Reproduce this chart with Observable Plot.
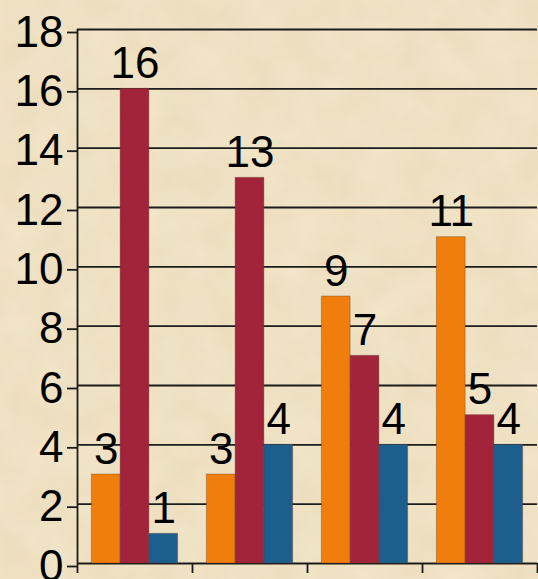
<!DOCTYPE html>
<html>
<head>
<meta charset="utf-8">
<script src="https://cdn.jsdelivr.net/npm/d3@7"></script>
<script src="https://cdn.jsdelivr.net/npm/@observablehq/plot@0.6"></script>
<style>
  html, body { margin: 0; padding: 0; }
  body {
    width: 538px; height: 579px; overflow: hidden;
    background-color: #F4E7CA;
    background-image: url("data:image/svg+xml;utf8,<svg xmlns='http://www.w3.org/2000/svg' width='538' height='579'><filter id='n'><feTurbulence type='fractalNoise' baseFrequency='0.025' numOctaves='4' seed='3'/><feColorMatrix values='0 0 0 0 0.6  0 0 0 0 0.48  0 0 0 0 0.28  0 0 0 0.26 0'/></filter><rect width='100%' height='100%' filter='url(%23n)'/></svg>");
  }
  #chart svg { display: block; }
</style>
</head>
<body>
<div id="chart"></div>
<script>
// Data
const groups = ["Group 1", "Group 2", "Group 3", "Group 4"];
const seriesNames = ["Series 1", "Series 2", "Series 3"];
const series1 = [3, 3, 9, 11];
const series2 = [16, 13, 7, 5];
const series3 = [1, 4, 4, 4];
const yTicks = [0, 2, 4, 6, 8, 10, 12, 14, 16, 18];
const groupEdges = [0, 1, 2, 3, 4];

const seriesValues = [series1, series2, series3];
const barW = 0.25;
const data = [];
groups.forEach((g, gi) => {
  seriesNames.forEach((s, si) => {
    const x1 = gi + 0.5 - 1.5 * barW + si * barW;
    data.push({ group: g, series: s, value: seriesValues[si][gi], x1, x2: x1 + barW, xm: x1 + barW / 2 });
  });
});

const ink = "#1c1c1c";
const chart = Plot.plot({
  width: 538,
  height: 579,
  marginLeft: 77,
  marginRight: 1,
  marginTop: 29,
  marginBottom: 16,
  style: { background: "transparent", fontFamily: "'Liberation Sans', Arial, sans-serif", color: "#000", overflow: "visible" },
  x: { domain: [0, 4], axis: null },
  y: { domain: [0, 18], axis: null },
  color: { domain: seriesNames, range: ["#F07E0C", "#A2243B", "#1C5F8E"] },
  marks: [
    Plot.ruleY(yTicks, { stroke: ink, strokeWidth: 1.8, strokeOpacity: 1 }),
    Plot.axisY({ ticks: yTicks, tickSize: 10, tickPadding: 4, fontSize: 44, label: null, stroke: ink, strokeWidth: 1.8, strokeOpacity: 1, dy: 3 }),
    Plot.axisX({ ticks: groupEdges, tickSize: 10, tickFormat: () => "", label: null, stroke: ink, strokeWidth: 1.8, strokeOpacity: 1 }),
    Plot.ruleX([0], { stroke: ink, strokeWidth: 1.8 }),
    Plot.rectY(data, { x1: "x1", x2: "x2", y: "value", fill: "series", stroke: "#5a3a2a", strokeOpacity: 0.35, strokeWidth: 1 }),
    Plot.text(data, { x: "xm", y: "value", text: d => String(d.value), fontSize: 44, fill: "#000", lineAnchor: "bottom", dy: -11 })
  ]
});
document.getElementById("chart").appendChild(chart);
</script>
</body>
</html>
